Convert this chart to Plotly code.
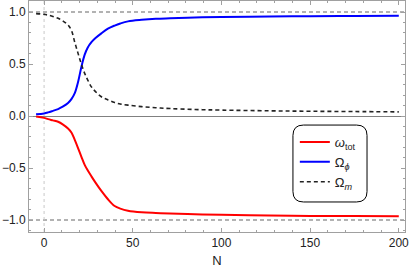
import plotly.graph_objects as go

N = [-4.5, 0, 2.3, 5, 7.9, 10.5, 13.5, 15.5, 17.3, 19.2, 21, 22.9, 24.5, 26.7, 29,
     32.3, 36, 39.8, 43, 47.3, 55, 63, 71, 85, 100, 127, 150, 175, 200]
omega_phi = [0.016, 0.025, 0.035, 0.05, 0.067, 0.09, 0.125, 0.165, 0.22, 0.33, 0.47,
             0.59, 0.655, 0.71, 0.75, 0.795, 0.84, 0.87, 0.89, 0.91, 0.925, 0.935,
             0.94, 0.947, 0.952, 0.957, 0.96, 0.962, 0.963]
omega_m = [0.985, 0.978, 0.97, 0.958, 0.94, 0.915, 0.875, 0.82, 0.71, 0.6, 0.5, 0.41,
           0.35, 0.28, 0.235, 0.185, 0.155, 0.13, 0.115, 0.105, 0.09, 0.08, 0.072,
           0.063, 0.057, 0.05, 0.046, 0.043, 0.04]
w_tot = [-0.005, -0.018, -0.03, -0.042, -0.055, -0.08, -0.12, -0.16, -0.23, -0.31,
         -0.39, -0.47, -0.52, -0.58, -0.64, -0.72, -0.80, -0.865, -0.89, -0.91, -0.925,
         -0.932, -0.937, -0.945, -0.95, -0.957, -0.96, -0.962, -0.963]

x_ticks = [0, 50, 100, 150, 200]
y_ticks = [-1.0, -0.5, 0.0, 0.5, 1.0]
y_tick_text = ["\u22121.0", "\u22120.5", "0.0", "0.5", "1.0"]

fig = go.Figure()
fig.add_trace(go.Scatter(x=N, y=w_tot, mode="lines", line=dict(color="#ff0000", width=2, shape="spline"),
                         name="<i>ω</i><sub>tot</sub>"))
fig.add_trace(go.Scatter(x=N, y=omega_phi, mode="lines", line=dict(color="#0000ff", width=2, shape="spline"),
                         name="Ω<sub><i>ϕ</i></sub>"))
fig.add_trace(go.Scatter(x=N, y=omega_m, mode="lines", line=dict(color="#222222", width=1.6, dash="4px,3px", shape="spline"),
                         name="Ω<sub><i>m</i></sub>"))

fig.add_hline(y=1, line=dict(color="#999999", width=1.5, dash="4px,3px"), layer="below")
fig.add_hline(y=-1, line=dict(color="#999999", width=1.5, dash="4px,3px"), layer="below")
fig.add_vline(x=0, line=dict(color="#c8c8c8", width=1, dash="dot"), layer="below")

# rounded legend frame
x0, x1, y0, y1 = 0.702, 0.899, 0.13, 0.463
rx, ry = 0.028, 0.045
path = (f"M{x0+rx},{y1} L{x1-rx},{y1} Q{x1},{y1} {x1},{y1-ry} L{x1},{y0+ry} "
        f"Q{x1},{y0} {x1-rx},{y0} L{x0+rx},{y0} Q{x0},{y0} {x0},{y0+ry} "
        f"L{x0},{y1-ry} Q{x0},{y1} {x0+rx},{y1} Z")
fig.add_shape(type="path", path=path, xref="paper", yref="paper",
              line=dict(color="#000000", width=1), fillcolor="white", layer="above")

axis_common = dict(showline=True, linecolor="#a0a0a0", linewidth=1, mirror="allticks",
                   ticks="inside", ticklen=4, tickcolor="#a0a0a0", showgrid=False,
                   ticklabeloverflow="allow",
                   tickfont=dict(family="Liberation Sans, Arial, sans-serif", size=12, color="#222222"))

fig.update_xaxes(range=[-8.5, 203.5], tickvals=x_ticks, zeroline=False,
                 minor=dict(ticks="inside", ticklen=2, tickcolor="#a0a0a0", dtick=10, showgrid=False),
                 title=dict(text="N", font=dict(family="Liberation Sans, Arial, sans-serif", size=13, color="#222222"),
                            standoff=6),
                 **axis_common)
fig.update_yaxes(range=[-1.115, 1.106], tickvals=y_ticks, ticktext=y_tick_text,
                 zeroline=True, zerolinecolor="#808080", zerolinewidth=1,
                 minor=dict(ticks="inside", ticklen=2, tickcolor="#a0a0a0", dtick=0.1, showgrid=False),
                 **axis_common)

fig.update_layout(
    width=409, height=271,
    margin=dict(l=29, r=4, t=1, b=39),
    plot_bgcolor="white", paper_bgcolor="white",
    showlegend=True,
    legend=dict(x=0.707, y=0.4545, xanchor="left", yanchor="top",
                bgcolor="rgba(0,0,0,0)", borderwidth=0,
                font=dict(family="Liberation Sans, Arial, sans-serif", size=13, color="#222222"),
                itemwidth=30, tracegroupgap=0),
)

fig.write_html("out.html", config={"displayModeBar": False},
               post_script="document.body.style.margin='0';document.body.style.padding='0';")
